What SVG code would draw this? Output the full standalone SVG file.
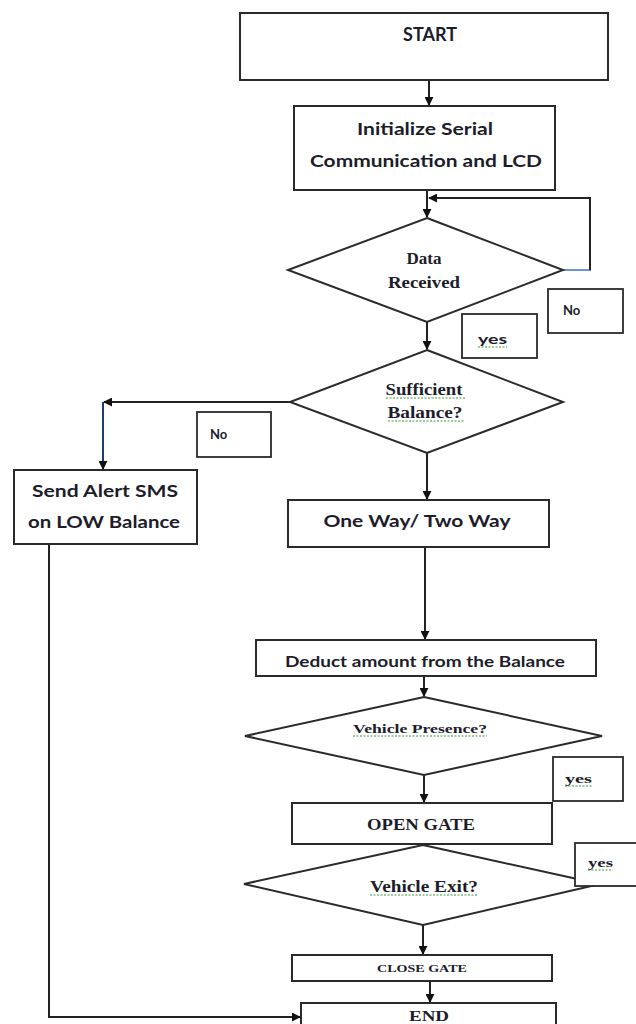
<svg xmlns="http://www.w3.org/2000/svg" width="636" height="1024" viewBox="0 0 636 1024">
  <defs>
    <marker id="arr" viewBox="0 0 10 10" refX="9" refY="5" markerWidth="9" markerHeight="9" markerUnits="userSpaceOnUse" orient="auto">
      <path d="M0,0 L10,5 L0,10 Z" fill="#111"/>
    </marker>
  </defs>
  <style>
    .box { fill: #fff; stroke: #2a2a2a; stroke-width: 2; }
    .lbl { fill: #fff; stroke: #2a2a2a; stroke-width: 1.8; }
    .link { fill: none; stroke: #222; stroke-width: 2; }
    .sans { font-family: "Lato", "Liberation Sans", sans-serif; font-weight: bold; fill: #1c1c2a; text-anchor: middle; }
    .serif { font-family: "Liberation Serif", "DejaVu Serif", serif; font-weight: bold; fill: #1c1c2a; text-anchor: middle; }
    .small { font-family: "Lato", "Liberation Sans", sans-serif; font-weight: bold; fill: #1c1c2a; font-size: 13px; }
    .small-serif { font-family: "Liberation Serif", "DejaVu Serif", serif; font-weight: bold; fill: #1c1c2a; font-size: 13px; }
    .squig { fill: none; stroke: #3a9a3a; stroke-width: 1; stroke-dasharray: 2 1.5; }
  </style>

  <!-- connectors -->
  <g id="connectors">
    <line class="link" x1="429" y1="80" x2="429" y2="105" marker-end="url(#arr)"/>
    <line class="link" x1="427" y1="190" x2="427" y2="217" marker-end="url(#arr)"/>
    <!-- "No" loop back to the data check -->
    <line x1="563" y1="270" x2="591" y2="270" stroke="#3a6fc0" stroke-width="1.5"/>
    <polyline class="link" points="590,270 590,198 429,198" marker-end="url(#arr)"/>
    <line class="link" x1="427" y1="322" x2="427" y2="349" marker-end="url(#arr)"/>
    <!-- insufficient balance branch -->
    <polyline class="link" points="290,402 104,402" marker-end="url(#arr)"/>
    <line x1="103" y1="402" x2="103" y2="469" stroke="#1f3c6e" stroke-width="2" marker-end="url(#arr)"/>
    <line class="link" x1="427" y1="453" x2="427" y2="499" marker-end="url(#arr)"/>
    <line class="link" x1="425" y1="547" x2="425" y2="639" marker-end="url(#arr)"/>
    <line class="link" x1="424" y1="676" x2="424" y2="696" marker-end="url(#arr)"/>
    <line class="link" x1="424" y1="775" x2="424" y2="802" marker-end="url(#arr)"/>
    <line class="link" x1="423" y1="887" x2="423" y2="917" marker-end="url(#arr)"/>
    <line class="link" x1="423" y1="925" x2="423" y2="954" marker-end="url(#arr)"/>
    <line class="link" x1="430" y1="981" x2="430" y2="1002" marker-end="url(#arr)"/>
    <polyline class="link" points="49,544 49,1017 300,1017" marker-end="url(#arr)"/>
  </g>

  <g id="start">
    <rect class="box" x="240" y="13" width="368" height="67"/>
    <text class="sans" x="430" y="41" font-size="18">START</text>
  </g>

  <g id="init">
    <rect class="box" x="294" y="106" width="261" height="84"/>
    <text class="sans" x="425" y="135" font-size="17" textLength="136" lengthAdjust="spacingAndGlyphs">Initialize Serial</text>
    <text class="sans" x="426" y="167" font-size="17" textLength="232" lengthAdjust="spacingAndGlyphs">Communication and  LCD</text>
  </g>

  <g id="data-received">
    <polygon class="box" points="427,218 563,270 427,322 288,270"/>
    <text class="serif" x="424" y="264" font-size="17">Data</text>
    <text class="serif" x="424" y="288" font-size="17" textLength="72" lengthAdjust="spacingAndGlyphs">Received</text>
  </g>

  <g id="label-no-loop">
    <rect class="lbl" x="548" y="289" width="75" height="44"/>
    <text class="small" x="563" y="315">No</text>
  </g>

  <g id="label-yes-data">
    <rect class="lbl" x="462" y="314" width="75" height="44"/>
    <text class="small" x="478" y="344" textLength="29" lengthAdjust="spacingAndGlyphs">yes</text>
    <path class="squig" d="M478,347 h29"/>
  </g>

  <g id="sufficient-balance">
    <polygon class="box" points="427,350 563,402 427,453 290,402"/>
    <text class="serif" x="424" y="395" font-size="16" textLength="77" lengthAdjust="spacingAndGlyphs">Sufficient</text>
    <text class="serif" x="425" y="418" font-size="16" textLength="75" lengthAdjust="spacingAndGlyphs">Balance?</text>
    <path class="squig" d="M386,398 h79 M388,421 h76"/>
  </g>

  <g id="label-no-balance">
    <rect class="lbl" x="197" y="412" width="74" height="45"/>
    <text class="small" x="210" y="439">No</text>
  </g>

  <g id="send-alert">
    <rect class="box" x="14" y="470" width="183" height="74"/>
    <text class="sans" x="105" y="497" font-size="17" textLength="146" lengthAdjust="spacingAndGlyphs">Send Alert SMS</text>
    <text class="sans" x="104" y="528" font-size="17" textLength="152" lengthAdjust="spacingAndGlyphs">on LOW Balance</text>
  </g>

  <g id="one-way-two-way">
    <rect class="box" x="288" y="500" width="261" height="47"/>
    <text class="sans" x="417" y="527" font-size="17" textLength="187" lengthAdjust="spacingAndGlyphs">One Way/ Two Way</text>
  </g>

  <g id="deduct">
    <rect class="box" x="256" y="640" width="340" height="36"/>
    <text class="sans" x="425" y="667" font-size="16" textLength="280" lengthAdjust="spacingAndGlyphs">Deduct  amount  from the Balance</text>
  </g>

  <g id="vehicle-presence">
    <polygon class="box" points="424,697 602,736 424,775 245,736"/>
    <text class="serif" x="420" y="733" font-size="13" textLength="134" lengthAdjust="spacingAndGlyphs">Vehicle Presence?</text>
    <path class="squig" d="M353,736 h134"/>
  </g>

  <g id="label-yes-presence">
    <rect class="lbl" x="553" y="757" width="70" height="44"/>
    <text class="small-serif" x="565" y="783" textLength="27" lengthAdjust="spacingAndGlyphs">yes</text>
    <path class="squig" d="M565,786 h27"/>
  </g>

  <g id="open-gate">
    <rect class="box" x="292" y="803" width="260" height="41"/>
    <text class="serif" x="421" y="830" font-size="16" textLength="108" lengthAdjust="spacingAndGlyphs">OPEN  GATE</text>
  </g>

  <g id="vehicle-exit">
    <polygon class="box" points="423,845 600,884 423,925 244,884"/>
    <text class="serif" x="424" y="892" font-size="16" textLength="108" lengthAdjust="spacingAndGlyphs">Vehicle Exit?</text>
    <path class="squig" d="M370,895 h108"/>
  </g>

  <g id="label-yes-exit">
    <rect class="lbl" x="575" y="843" width="66" height="43"/>
    <text class="small-serif" x="588" y="867" textLength="25" lengthAdjust="spacingAndGlyphs">yes</text>
    <path class="squig" d="M588,870 h25"/>
  </g>

  <g id="close-gate">
    <rect class="box" x="292" y="955" width="260" height="26"/>
    <text class="serif" x="422" y="972" font-size="11" textLength="90" lengthAdjust="spacingAndGlyphs">CLOSE GATE</text>
  </g>

  <g id="end">
    <rect class="box" x="301" y="1003" width="255" height="30"/>
    <text class="serif" x="429" y="1021" font-size="15" textLength="40" lengthAdjust="spacingAndGlyphs">END</text>
  </g>
</svg>
